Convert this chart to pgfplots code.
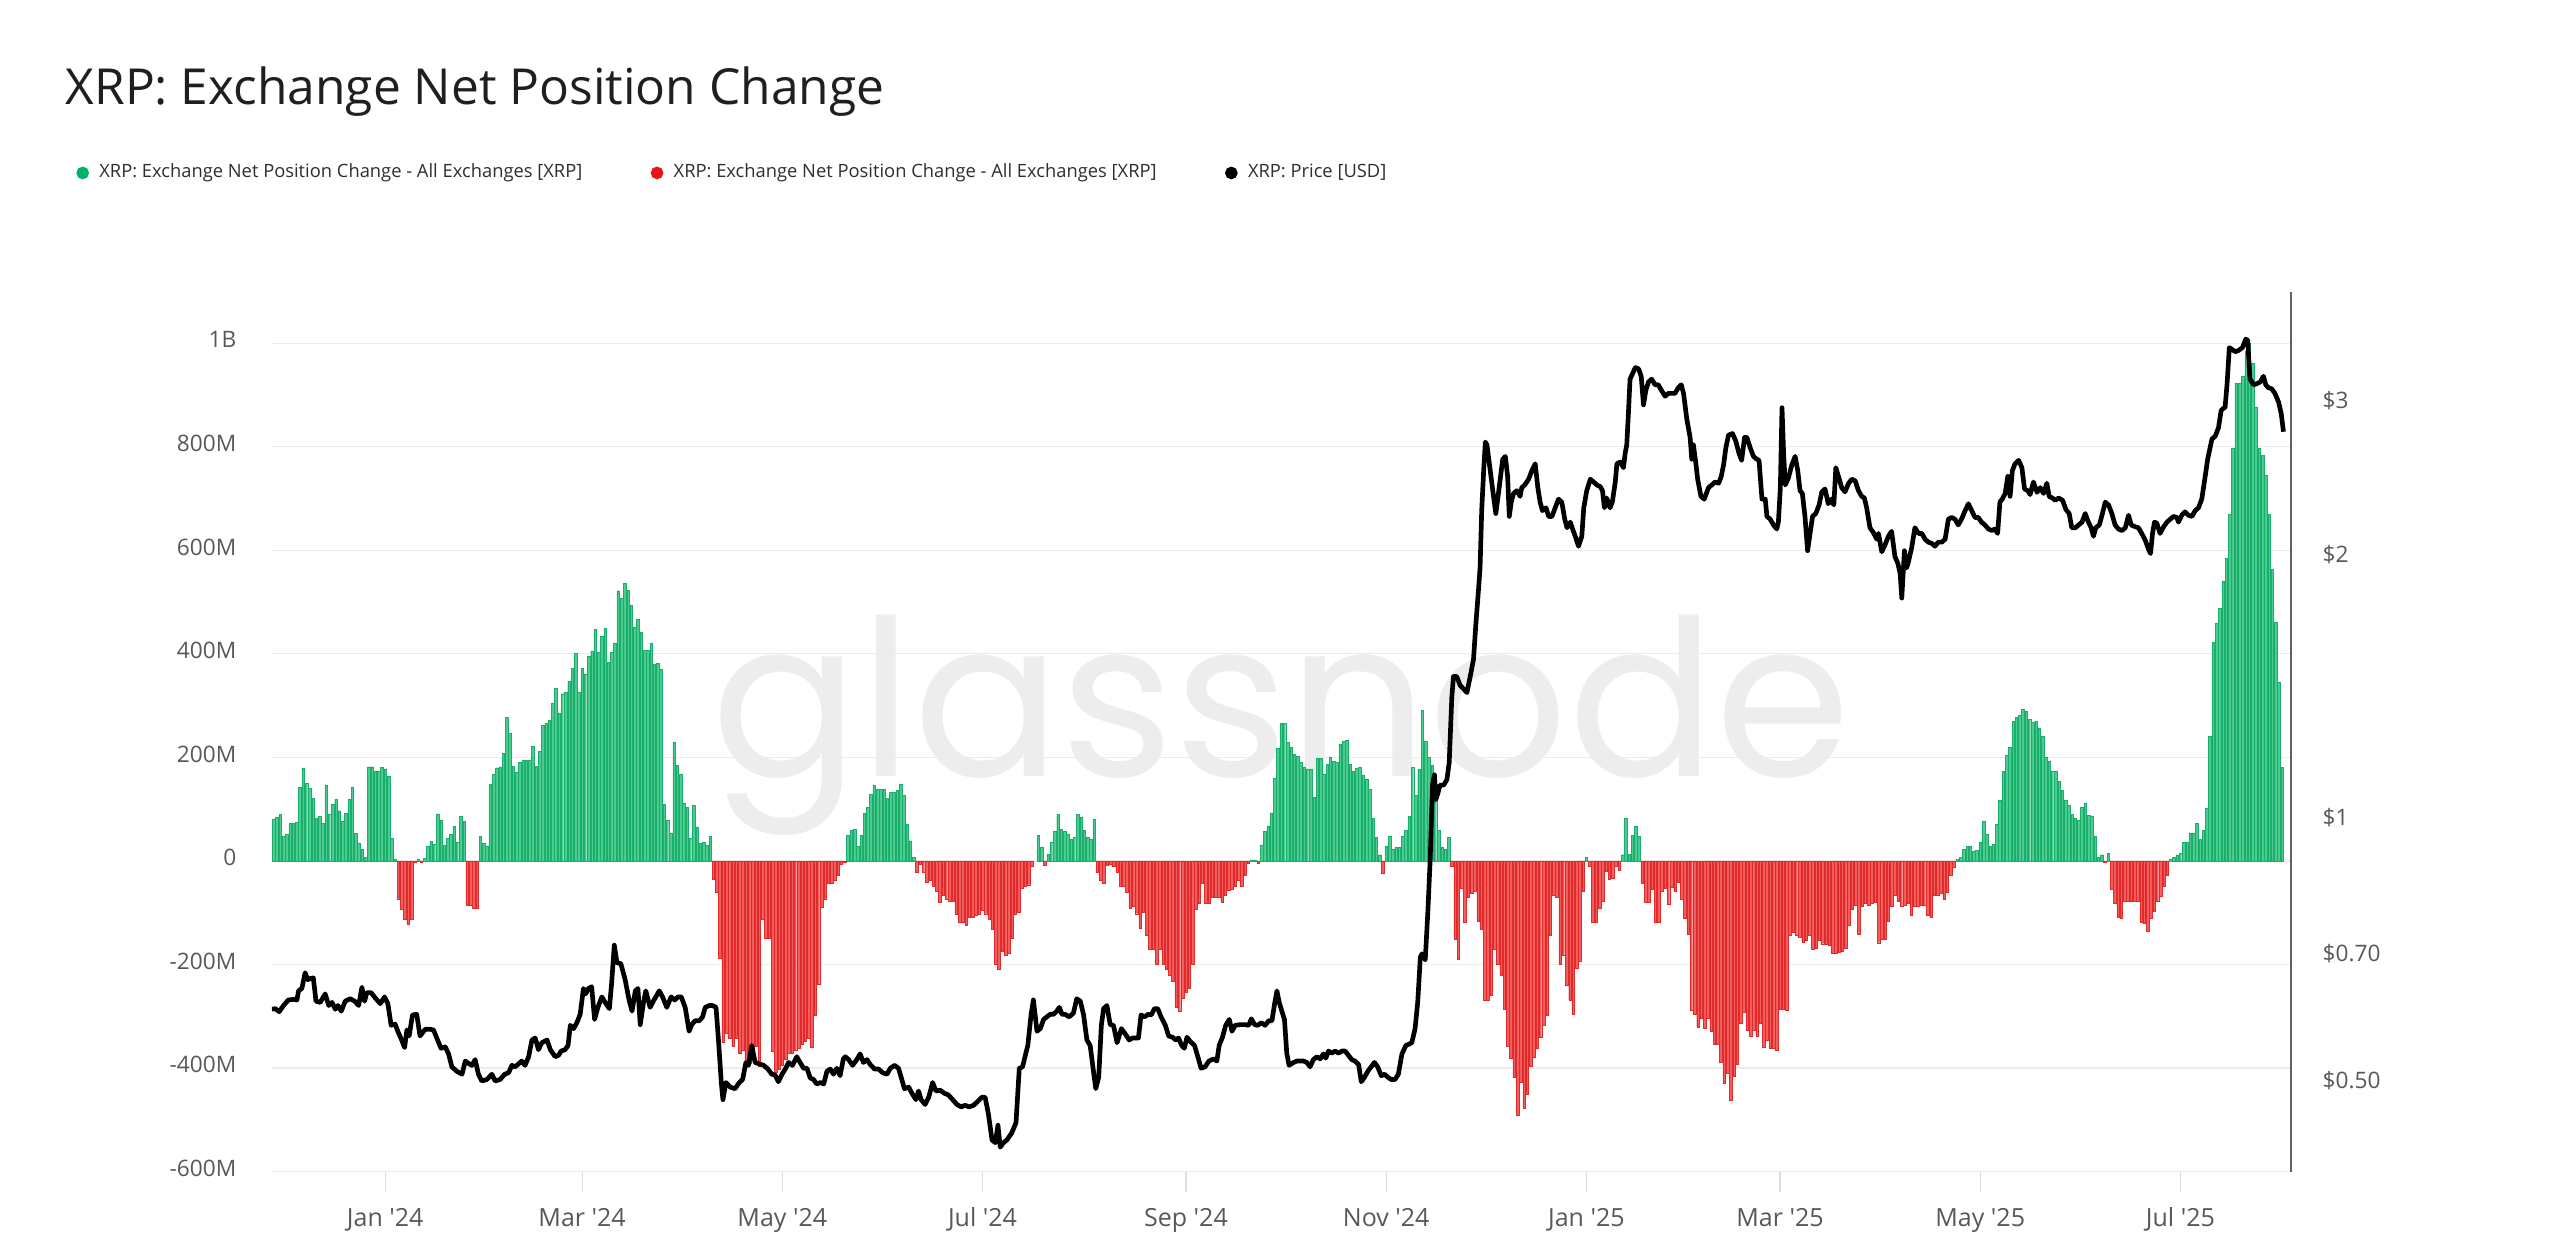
\documentclass[border=0pt]{standalone}
\usepackage{fontspec}
\setmainfont{Open Sans}[Ligatures=TeXOff]
\newfontfamily\wmfont{Poppins}
\usepackage{pgfplots}
\usepackage{pgfplotstable}
\pgfplotsset{compat=1.18}

\definecolor{barG}{RGB}{76,203,144}
\definecolor{barGd}{RGB}{26,174,108}
\definecolor{barR}{RGB}{241,94,94}
\definecolor{barRd}{RGB}{226,42,42}
\definecolor{legG}{RGB}{0,178,107}
\definecolor{legR}{RGB}{232,20,25}
\definecolor{gridc}{RGB}{236,236,236}
\definecolor{tickc}{RGB}{88,88,88}

% Exchange net position change, millions of XRP, day 0 = 1 Jan 2024
\pgfplotstableread[row sep=\\]{
d v \\
-34 81 \\ -33 84 \\ -32 90 \\ -31 48 \\ -30 51 \\ -29 72 \\ -28 72 \\ -27 74 \\ -26 142 \\ -25 179 \\
-24 150 \\ -23 141 \\ -22 121 \\ -21 83 \\ -20 87 \\ -19 72 \\ -18 147 \\ -17 90 \\ -16 110 \\ -15 119 \\
-14 97 \\ -13 76 \\ -12 92 \\ -11 120 \\ -10 143 \\ -9 53 \\ -8 34 \\ -7 22 \\ -6 8 \\ -5 182 \\
-4 182 \\ -3 173 \\ -2 173 \\ -1 181 \\ 0 177 \\ 1 164 \\ 2 44 \\ 3 3 \\ 4 -73 \\ 5 -93 \\
6 -113 \\ 7 -122 \\ 8 -112 \\ 9 -2 \\ 10 3 \\ 11 -3 \\ 12 5 \\ 13 29 \\ 14 38 \\ 15 32 \\
16 91 \\ 17 79 \\ 18 31 \\ 19 43 \\ 20 51 \\ 21 67 \\ 22 36 \\ 23 86 \\ 24 77 \\ 25 -86 \\
26 -86 \\ 27 -92 \\ 28 -92 \\ 29 47 \\ 30 34 \\ 31 29 \\ 32 149 \\ 33 167 \\ 34 180 \\ 35 182 \\
36 208 \\ 37 278 \\ 38 246 \\ 39 183 \\ 40 171 \\ 41 190 \\ 42 194 \\ 43 194 \\ 44 194 \\ 45 221 \\
46 183 \\ 47 212 \\ 48 262 \\ 49 266 \\ 50 271 \\ 51 304 \\ 52 334 \\ 53 286 \\ 54 323 \\ 55 326 \\
56 348 \\ 57 373 \\ 58 401 \\ 59 326 \\ 60 372 \\ 61 361 \\ 62 396 \\ 63 406 \\ 64 447 \\ 65 403 \\
66 434 \\ 67 449 \\ 68 383 \\ 69 403 \\ 70 421 \\ 71 522 \\ 72 507 \\ 73 537 \\ 74 523 \\ 75 494 \\
76 452 \\ 77 466 \\ 78 441 \\ 79 407 \\ 80 407 \\ 81 421 \\ 82 380 \\ 83 381 \\ 84 370 \\ 85 109 \\
86 79 \\ 87 54 \\ 88 230 \\ 89 184 \\ 90 168 \\ 91 112 \\ 92 104 \\ 93 43 \\ 94 107 \\ 95 66 \\
96 34 \\ 97 37 \\ 98 30 \\ 99 47 \\ 100 -36 \\ 101 -60 \\ 102 -188 \\ 103 -351 \\ 104 -333 \\ 105 -343 \\
106 -358 \\ 107 -343 \\ 108 -372 \\ 109 -365 \\ 110 -394 \\ 111 -390 \\ 112 -365 \\ 113 -358 \\ 114 -397 \\ 115 -113 \\
116 -149 \\ 117 -149 \\ 118 -367 \\ 119 -408 \\ 120 -403 \\ 121 -394 \\ 122 -383 \\ 123 -372 \\ 124 -372 \\ 125 -365 \\
126 -361 \\ 127 -354 \\ 128 -348 \\ 129 -343 \\ 130 -360 \\ 131 -299 \\ 132 -239 \\ 133 -90 \\ 134 -73 \\ 135 -44 \\
136 -43 \\ 137 -37 \\ 138 -28 \\ 139 -6 \\ 140 -2 \\ 141 50 \\ 142 60 \\ 143 61 \\ 144 28 \\ 145 50 \\
146 92 \\ 147 103 \\ 148 128 \\ 149 147 \\ 150 139 \\ 151 138 \\ 152 138 \\ 153 121 \\ 154 133 \\ 155 133 \\
156 137 \\ 157 149 \\ 158 126 \\ 159 70 \\ 160 39 \\ 161 8 \\ 162 -21 \\ 163 -7 \\ 164 -21 \\ 165 -41 \\
166 -38 \\ 167 -49 \\ 168 -58 \\ 169 -80 \\ 170 -66 \\ 171 -74 \\ 172 -77 \\ 173 -78 \\ 174 -103 \\ 175 -118 \\
176 -118 \\ 177 -124 \\ 178 -108 \\ 179 -108 \\ 180 -104 \\ 181 -102 \\ 182 -96 \\ 183 -102 \\ 184 -112 \\ 185 -132 \\
186 -199 \\ 187 -210 \\ 188 -174 \\ 189 -183 \\ 190 -178 \\ 191 -150 \\ 192 -103 \\ 193 -100 \\ 194 -52 \\ 195 -49 \\
196 -46 \\ 197 -10 \\ 198 0 \\ 199 50 \\ 200 27 \\ 201 -8 \\ 202 13 \\ 203 37 \\ 204 57 \\ 205 90 \\
206 61 \\ 207 57 \\ 208 51 \\ 209 41 \\ 210 46 \\ 211 90 \\ 212 84 \\ 213 59 \\ 214 46 \\ 215 42 \\
216 81 \\ 217 -22 \\ 218 -37 \\ 219 -43 \\ 220 -8 \\ 221 -6 \\ 222 -10 \\ 223 -21 \\ 224 -48 \\ 225 -48 \\
226 -60 \\ 227 -91 \\ 228 -88 \\ 229 -102 \\ 230 -130 \\ 231 -99 \\ 232 -143 \\ 233 -171 \\ 234 -171 \\ 235 -199 \\
236 -171 \\ 237 -199 \\ 238 -210 \\ 239 -221 \\ 240 -232 \\ 241 -282 \\ 242 -290 \\ 243 -266 \\ 244 -254 \\ 245 -246 \\
246 -199 \\ 247 -93 \\ 248 -82 \\ 249 -43 \\ 250 -82 \\ 251 -82 \\ 252 -71 \\ 253 -71 \\ 254 -71 \\ 255 -80 \\
256 -66 \\ 257 -57 \\ 258 -54 \\ 259 -49 \\ 260 -38 \\ 261 -49 \\ 262 -27 \\ 263 -4 \\ 264 2 \\ 265 1 \\
266 -5 \\ 267 31 \\ 268 57 \\ 269 68 \\ 270 93 \\ 271 159 \\ 272 218 \\ 273 266 \\ 274 266 \\ 275 229 \\
276 220 \\ 277 206 \\ 278 203 \\ 279 190 \\ 280 181 \\ 281 178 \\ 282 178 \\ 283 123 \\ 284 198 \\ 285 198 \\
286 167 \\ 287 187 \\ 288 201 \\ 289 193 \\ 290 190 \\ 291 226 \\ 292 231 \\ 293 233 \\ 294 187 \\ 295 173 \\
296 179 \\ 297 181 \\ 298 166 \\ 299 157 \\ 300 138 \\ 301 82 \\ 302 46 \\ 303 12 \\ 304 -23 \\ 305 29 \\
306 47 \\ 307 23 \\ 308 26 \\ 309 27 \\ 310 48 \\ 311 59 \\ 312 87 \\ 313 181 \\ 314 127 \\ 315 177 \\
316 291 \\ 317 231 \\ 318 200 \\ 319 184 \\ 320 146 \\ 321 59 \\ 322 27 \\ 323 23 \\ 324 46 \\ 325 -10 \\
326 -151 \\ 327 -190 \\ 328 -52 \\ 329 -119 \\ 330 -71 \\ 331 -63 \\ 332 -58 \\ 333 -116 \\ 334 -132 \\ 335 -269 \\
336 -269 \\ 337 -260 \\ 338 -171 \\ 339 -199 \\ 340 -221 \\ 341 -286 \\ 342 -358 \\ 343 -382 \\ 344 -418 \\ 345 -492 \\
346 -427 \\ 347 -477 \\ 348 -451 \\ 349 -397 \\ 350 -379 \\ 351 -362 \\ 352 -341 \\ 353 -318 \\ 354 -299 \\ 355 -143 \\
356 -66 \\ 357 -71 \\ 358 -199 \\ 359 -182 \\ 360 -241 \\ 361 -269 \\ 362 -297 \\ 363 -208 \\ 364 -193 \\ 365 -58 \\
366 8 \\ 367 -10 \\ 368 -118 \\ 369 -118 \\ 370 -91 \\ 371 -77 \\ 372 -19 \\ 373 -36 \\ 374 -34 \\ 375 -10 \\
376 -18 \\ 377 12 \\ 378 82 \\ 379 13 \\ 380 50 \\ 381 67 \\ 382 47 \\ 383 -43 \\ 384 -80 \\ 385 -80 \\
386 -54 \\ 387 -119 \\ 388 -119 \\ 389 -58 \\ 390 -52 \\ 391 -84 \\ 392 -51 \\ 393 -58 \\ 394 -41 \\ 395 -74 \\
396 -110 \\ 397 -141 \\ 398 -288 \\ 399 -297 \\ 400 -321 \\ 401 -304 \\ 402 -324 \\ 403 -304 \\ 404 -329 \\ 405 -354 \\
406 -354 \\ 407 -388 \\ 408 -430 \\ 409 -410 \\ 410 -463 \\ 411 -416 \\ 412 -393 \\ 413 -313 \\ 414 -293 \\ 415 -327 \\
416 -338 \\ 417 -327 \\ 418 -338 \\ 419 -313 \\ 420 -360 \\ 421 -346 \\ 422 -362 \\ 423 -362 \\ 424 -366 \\ 425 -286 \\
426 -286 \\ 427 -288 \\ 428 -143 \\ 429 -138 \\ 430 -143 \\ 431 -147 \\ 432 -157 \\ 433 -154 \\ 434 -143 \\ 435 -171 \\
436 -169 \\ 437 -154 \\ 438 -160 \\ 439 -160 \\ 440 -162 \\ 441 -179 \\ 442 -179 \\ 443 -177 \\ 444 -174 \\ 445 -169 \\
446 -124 \\ 447 -93 \\ 448 -86 \\ 449 -141 \\ 450 -88 \\ 451 -82 \\ 452 -86 \\ 453 -82 \\ 454 -80 \\ 455 -158 \\
456 -152 \\ 457 -152 \\ 458 -116 \\ 459 -88 \\ 460 -66 \\ 461 -77 \\ 462 -88 \\ 463 -86 \\ 464 -82 \\ 465 -104 \\
466 -88 \\ 467 -88 \\ 468 -86 \\ 469 -86 \\ 470 -104 \\ 471 -108 \\ 472 -66 \\ 473 -66 \\ 474 -63 \\ 475 -74 \\
476 -60 \\ 477 -27 \\ 478 -12 \\ 479 3 \\ 480 7 \\ 481 22 \\ 482 28 \\ 483 28 \\ 484 18 \\ 485 20 \\
486 37 \\ 487 77 \\ 488 51 \\ 489 29 \\ 490 32 \\ 491 70 \\ 492 118 \\ 493 173 \\ 494 204 \\ 495 220 \\
496 270 \\ 497 277 \\ 498 282 \\ 499 293 \\ 500 290 \\ 501 273 \\ 502 268 \\ 503 270 \\ 504 257 \\ 505 240 \\
506 201 \\ 507 193 \\ 508 173 \\ 509 173 \\ 510 154 \\ 511 137 \\ 512 118 \\ 513 107 \\ 514 90 \\ 515 82 \\
516 79 \\ 517 103 \\ 518 112 \\ 519 88 \\ 520 87 \\ 521 48 \\ 522 7 \\ 523 12 \\ 524 -2 \\ 525 14 \\
526 -54 \\ 527 -82 \\ 528 -108 \\ 529 -110 \\ 530 -77 \\ 531 -77 \\ 532 -77 \\ 533 -77 \\ 534 -77 \\ 535 -119 \\
536 -121 \\ 537 -136 \\ 538 -110 \\ 539 -97 \\ 540 -77 \\ 541 -69 \\ 542 -49 \\ 543 -27 \\ 544 3 \\ 545 7 \\
546 12 \\ 547 14 \\ 548 37 \\ 549 37 \\ 550 54 \\ 551 54 \\ 552 73 \\ 553 42 \\ 554 60 \\ 555 101 \\
556 240 \\ 557 423 \\ 558 459 \\ 559 488 \\ 560 540 \\ 561 584 \\ 562 670 \\ 563 798 \\ 564 923 \\ 565 923 \\
566 937 \\ 567 984 \\ 568 1001 \\ 569 962 \\ 570 877 \\ 571 798 \\ 572 784 \\ 573 746 \\ 574 670 \\ 575 564 \\
576 462 \\ 577 346 \\ 578 181 \\
}\netpos

% XRP price, USD
\pgfplotstableread[row sep=\\]{
d p \\
-34.5 0.604 \\ -33.5 0.605 \\ -32.3 0.600 \\ -31.0 0.610 \\ -29.5 0.619 \\ -28.0 0.620 \\ -26.9 0.619 \\ -26.4 0.634 \\
-25.4 0.638 \\ -24.4 0.665 \\ -23.6 0.653 \\ -22.9 0.655 \\ -21.9 0.656 \\ -21.1 0.617 \\ -19.8 0.615 \\ -18.3 0.629 \\
-17.2 0.610 \\ -16.2 0.615 \\ -15.2 0.604 \\ -14.4 0.610 \\ -13.4 0.601 \\ -12.2 0.617 \\ -10.7 0.621 \\ -9.3 0.617 \\
-8.1 0.610 \\ -7.1 0.640 \\ -6.3 0.617 \\ -5.6 0.631 \\ -4.3 0.631 \\ -3.0 0.622 \\ -1.5 0.613 \\ -0.2 0.624 \\
0.8 0.613 \\ 1.8 0.579 \\ 3.0 0.581 \\ 4.0 0.568 \\ 5.1 0.556 \\ 5.9 0.546 \\ 6.6 0.572 \\ 7.3 0.563 \\
8.3 0.595 \\ 9.6 0.596 \\ 10.6 0.563 \\ 12.2 0.573 \\ 13.7 0.573 \\ 14.7 0.572 \\ 15.7 0.560 \\ 17.0 0.545 \\
18.3 0.547 \\ 19.3 0.537 \\ 20.3 0.519 \\ 21.8 0.513 \\ 23.4 0.509 \\ 24.4 0.527 \\ 25.6 0.523 \\ 26.4 0.521 \\
27.4 0.529 \\ 28.4 0.509 \\ 29.4 0.500 \\ 31.0 0.502 \\ 32.5 0.509 \\ 33.5 0.500 \\ 35.0 0.502 \\ 36.4 0.509 \\
37.6 0.511 \\ 38.6 0.521 \\ 39.6 0.519 \\ 40.6 0.523 \\ 41.6 0.527 \\ 42.6 0.521 \\ 43.7 0.533 \\ 44.7 0.557 \\
45.7 0.560 \\ 46.7 0.543 \\ 47.7 0.553 \\ 49.3 0.557 \\ 50.3 0.543 \\ 51.8 0.533 \\ 52.8 0.535 \\ 53.6 0.541 \\
54.8 0.543 \\ 55.7 0.549 \\ 56.4 0.579 \\ 57.4 0.574 \\ 58.4 0.583 \\ 59.4 0.596 \\ 60.4 0.638 \\ 61.1 0.629 \\
61.9 0.638 \\ 62.9 0.641 \\ 63.8 0.588 \\ 64.8 0.607 \\ 66.0 0.624 \\ 67.0 0.615 \\ 68.3 0.605 \\ 69.0 0.648 \\
69.8 0.715 \\ 70.6 0.683 \\ 71.8 0.681 \\ 73.1 0.653 \\ 74.3 0.619 \\ 75.2 0.601 \\ 76.2 0.634 \\ 77.0 0.638 \\
77.7 0.580 \\ 78.7 0.615 \\ 79.4 0.634 \\ 80.7 0.607 \\ 81.9 0.619 \\ 83.5 0.634 \\ 84.5 0.624 \\ 85.8 0.607 \\
87.1 0.624 \\ 88.2 0.619 \\ 89.2 0.624 \\ 90.2 0.624 \\ 91.4 0.607 \\ 92.6 0.570 \\ 93.4 0.580 \\ 94.4 0.586 \\
95.7 0.586 \\ 96.7 0.592 \\ 97.5 0.607 \\ 98.7 0.610 \\ 99.7 0.610 \\ 100.8 0.607 \\ 101.6 0.553 \\ 102.4 0.498 \\
102.9 0.476 \\ 103.8 0.498 \\ 105.1 0.492 \\ 106.6 0.490 \\ 107.9 0.498 \\ 108.9 0.502 \\ 109.9 0.525 \\ 110.7 0.521 \\
111.7 0.549 \\ 112.7 0.525 \\ 114.0 0.523 \\ 115.3 0.521 \\ 116.6 0.516 \\ 117.8 0.509 \\ 118.8 0.508 \\ 119.8 0.499 \\
120.9 0.509 \\ 121.9 0.516 \\ 122.9 0.525 \\ 124.1 0.521 \\ 125.4 0.533 \\ 126.4 0.525 \\ 127.5 0.517 \\ 128.5 0.517 \\
129.5 0.504 \\ 130.5 0.502 \\ 131.5 0.496 \\ 132.6 0.498 \\ 133.6 0.496 \\ 134.6 0.513 \\ 135.6 0.516 \\ 136.6 0.509 \\
137.6 0.517 \\ 138.6 0.507 \\ 139.6 0.530 \\ 140.2 0.533 \\ 141.2 0.529 \\ 142.4 0.521 \\ 143.7 0.529 \\ 144.7 0.537 \\
145.7 0.525 \\ 146.8 0.529 \\ 147.8 0.522 \\ 149.1 0.516 \\ 150.3 0.516 \\ 151.6 0.511 \\ 152.9 0.509 \\ 153.9 0.517 \\
155.2 0.521 \\ 156.4 0.517 \\ 157.4 0.502 \\ 158.2 0.490 \\ 159.5 0.492 \\ 160.5 0.484 \\ 161.7 0.476 \\ 162.5 0.487 \\
163.3 0.476 \\ 164.5 0.470 \\ 165.6 0.479 \\ 166.8 0.498 \\ 167.8 0.487 \\ 169.1 0.488 \\ 170.4 0.484 \\ 171.6 0.482 \\
172.9 0.476 \\ 174.2 0.470 \\ 175.5 0.467 \\ 176.7 0.469 \\ 177.9 0.467 \\ 179.3 0.469 \\ 180.6 0.474 \\ 181.8 0.479 \\
182.8 0.479 \\ 183.8 0.458 \\ 184.9 0.428 \\ 185.9 0.425 \\ 186.7 0.445 \\ 187.4 0.420 \\ 188.4 0.425 \\ 189.4 0.428 \\
190.9 0.436 \\ 192.2 0.448 \\ 193.2 0.517 \\ 194.2 0.519 \\ 195.2 0.538 \\ 195.8 0.549 \\ 196.8 0.596 \\ 197.5 0.619 \\
198.6 0.570 \\ 199.6 0.574 \\ 200.6 0.588 \\ 201.6 0.592 \\ 202.6 0.596 \\ 203.6 0.596 \\ 204.6 0.601 \\ 205.4 0.607 \\
206.2 0.596 \\ 207.2 0.596 \\ 208.4 0.592 \\ 209.7 0.598 \\ 210.7 0.621 \\ 211.8 0.617 \\ 212.8 0.595 \\ 213.8 0.557 \\
214.8 0.549 \\ 215.8 0.513 \\ 216.5 0.490 \\ 217.4 0.505 \\ 218.2 0.579 \\ 218.9 0.605 \\ 219.9 0.610 \\ 220.9 0.580 \\
221.9 0.579 \\ 223.0 0.553 \\ 224.3 0.574 \\ 225.5 0.566 \\ 226.7 0.557 \\ 227.7 0.560 \\ 228.5 0.560 \\ 229.5 0.560 \\
230.3 0.595 \\ 231.4 0.592 \\ 232.4 0.596 \\ 233.4 0.595 \\ 234.4 0.605 \\ 235.4 0.605 \\ 236.4 0.592 \\ 237.7 0.579 \\
238.7 0.563 \\ 239.9 0.561 \\ 240.9 0.557 \\ 241.7 0.560 \\ 242.7 0.549 \\ 243.5 0.545 \\ 244.3 0.561 \\ 245.3 0.555 \\
246.6 0.549 \\ 247.6 0.533 \\ 248.6 0.517 \\ 249.8 0.519 \\ 251.0 0.527 \\ 252.4 0.530 \\ 253.4 0.527 \\ 254.1 0.549 \\
255.1 0.561 \\ 256.1 0.579 \\ 257.2 0.588 \\ 258.0 0.570 \\ 259.0 0.579 \\ 260.5 0.580 \\ 262.0 0.580 \\ 263.1 0.579 \\
263.9 0.589 \\ 264.9 0.580 \\ 265.9 0.579 \\ 266.9 0.583 \\ 268.1 0.579 \\ 269.2 0.586 \\ 270.2 0.586 \\ 271.0 0.613 \\
271.7 0.634 \\ 272.4 0.615 \\ 273.2 0.601 \\ 274.0 0.588 \\ 274.7 0.538 \\ 275.4 0.521 \\ 276.8 0.525 \\ 277.8 0.527 \\
278.8 0.527 \\ 279.8 0.527 \\ 280.8 0.525 \\ 281.8 0.519 \\ 282.8 0.529 \\ 283.9 0.533 \\ 284.9 0.530 \\ 285.9 0.537 \\
286.6 0.531 \\ 287.4 0.541 \\ 288.4 0.538 \\ 289.4 0.541 \\ 290.5 0.538 \\ 291.5 0.541 \\ 292.5 0.541 \\ 293.5 0.535 \\
294.5 0.529 \\ 295.5 0.527 \\ 296.6 0.522 \\ 297.4 0.499 \\ 298.4 0.505 \\ 299.4 0.513 \\ 300.4 0.519 \\ 301.4 0.525 \\
302.4 0.519 \\ 303.5 0.507 \\ 304.5 0.509 \\ 305.5 0.505 \\ 306.5 0.502 \\ 307.7 0.502 \\ 308.7 0.509 \\ 309.8 0.537 \\
311.0 0.549 \\ 312.8 0.553 \\ 313.8 0.574 \\ 314.6 0.615 \\ 315.4 0.693 \\ 315.9 0.699 \\ 316.9 0.688 \\ 317.7 0.782 \\
318.4 0.896 \\ 319.1 1.090 \\ 319.7 1.120 \\ 320.1 1.049 \\ 320.7 1.065 \\ 321.4 1.090 \\ 322.5 1.090 \\ 323.5 1.106 \\
324.2 1.157 \\ 325.0 1.376 \\ 325.5 1.451 \\ 326.5 1.451 \\ 327.5 1.418 \\ 328.6 1.404 \\ 329.6 1.391 \\ 330.6 1.451 \\
331.6 1.518 \\ 332.3 1.662 \\ 333.1 1.819 \\ 333.6 1.932 \\ 334.1 2.246 \\ 334.7 2.496 \\ 335.2 2.691 \\ 335.7 2.671 \\
336.7 2.496 \\ 337.7 2.332 \\ 338.4 2.229 \\ 339.2 2.350 \\ 340.5 2.572 \\ 341.3 2.591 \\ 342.0 2.458 \\ 342.5 2.212 \\
343.1 2.297 \\ 343.8 2.350 \\ 344.8 2.367 \\ 345.8 2.332 \\ 346.3 2.386 \\ 347.2 2.403 \\ 348.4 2.440 \\ 349.4 2.496 \\
350.4 2.541 \\ 351.2 2.386 \\ 351.9 2.297 \\ 352.6 2.246 \\ 353.7 2.263 \\ 354.5 2.212 \\ 355.5 2.212 \\ 356.5 2.263 \\
357.5 2.315 \\ 358.5 2.297 \\ 359.4 2.196 \\ 360.1 2.147 \\ 361.1 2.179 \\ 361.8 2.140 \\ 362.6 2.099 \\ 363.6 2.045 \\
364.6 2.099 \\ 365.2 2.263 \\ 366.1 2.367 \\ 367.2 2.440 \\ 368.2 2.422 \\ 369.2 2.403 \\ 370.2 2.393 \\ 370.9 2.367 \\
371.5 2.263 \\ 372.2 2.322 \\ 373.2 2.263 \\ 373.9 2.297 \\ 374.8 2.422 \\ 375.3 2.541 \\ 376.3 2.553 \\ 377.3 2.515 \\
377.8 2.611 \\ 378.3 2.671 \\ 378.8 2.902 \\ 379.3 3.176 \\ 380.1 3.224 \\ 380.9 3.274 \\ 381.9 3.263 \\ 382.7 3.200 \\
383.4 2.968 \\ 384.1 3.082 \\ 384.9 3.152 \\ 385.9 3.176 \\ 386.9 3.129 \\ 387.9 3.129 \\ 388.9 3.082 \\ 390.0 3.036 \\
391.0 3.059 \\ 392.0 3.059 \\ 393.0 3.059 \\ 394.0 3.105 \\ 394.9 3.129 \\ 395.6 3.059 \\ 396.6 2.858 \\ 397.6 2.724 \\
398.1 2.572 \\ 398.6 2.671 \\ 399.3 2.553 \\ 399.9 2.440 \\ 400.9 2.332 \\ 401.9 2.315 \\ 403.2 2.386 \\ 404.2 2.403 \\
405.2 2.422 \\ 406.3 2.414 \\ 407.1 2.458 \\ 407.8 2.534 \\ 408.5 2.651 \\ 409.3 2.740 \\ 410.5 2.752 \\ 411.5 2.699 \\
412.5 2.611 \\ 413.3 2.564 \\ 414.2 2.724 \\ 414.9 2.724 \\ 415.9 2.651 \\ 416.9 2.591 \\ 417.9 2.572 \\ 418.6 2.564 \\
419.5 2.315 \\ 420.5 2.315 \\ 421.0 2.212 \\ 422.0 2.196 \\ 423.0 2.163 \\ 424.0 2.140 \\ 424.5 2.179 \\ 425.1 2.386 \\
425.6 2.946 \\ 426.1 2.611 \\ 426.6 2.403 \\ 427.6 2.451 \\ 428.6 2.534 \\ 429.6 2.591 \\ 430.4 2.496 \\ 431.1 2.367 \\
431.8 2.350 \\ 432.6 2.212 \\ 433.4 2.021 \\ 434.2 2.121 \\ 434.9 2.212 \\ 435.9 2.229 \\ 436.9 2.280 \\ 437.7 2.357 \\
438.7 2.378 \\ 439.7 2.287 \\ 440.6 2.315 \\ 441.4 2.280 \\ 442.0 2.515 \\ 442.8 2.458 \\ 443.8 2.386 \\ 444.8 2.360 \\
445.9 2.414 \\ 446.9 2.440 \\ 447.9 2.429 \\ 448.9 2.367 \\ 449.9 2.332 \\ 450.7 2.322 \\ 451.4 2.263 \\ 452.4 2.147 \\
453.4 2.121 \\ 454.5 2.083 \\ 455.0 2.115 \\ 456.0 2.015 \\ 457.0 2.052 \\ 458.0 2.099 \\ 459.0 2.127 \\ 460.0 1.991 \\
460.9 1.955 \\ 461.6 1.903 \\ 462.1 1.784 \\ 462.9 2.021 \\ 463.6 1.932 \\ 464.1 1.961 \\ 465.1 2.036 \\ 466.1 2.147 \\
467.2 2.115 \\ 468.2 2.115 \\ 469.2 2.083 \\ 470.2 2.067 \\ 471.2 2.061 \\ 472.2 2.045 \\ 473.2 2.067 \\ 474.3 2.067 \\
475.3 2.083 \\ 476.3 2.196 \\ 477.3 2.206 \\ 478.3 2.196 \\ 479.3 2.163 \\ 480.3 2.196 \\ 481.4 2.246 \\ 482.4 2.287 \\
483.4 2.246 \\ 484.4 2.206 \\ 485.4 2.206 \\ 486.4 2.179 \\ 487.4 2.163 \\ 488.5 2.140 \\ 489.5 2.131 \\ 490.5 2.140 \\
491.3 2.115 \\ 492.0 2.297 \\ 492.7 2.315 \\ 493.6 2.350 \\ 494.4 2.458 \\ 495.1 2.332 \\ 495.8 2.496 \\ 496.6 2.541 \\
497.7 2.564 \\ 498.7 2.515 \\ 499.5 2.378 \\ 500.5 2.367 \\ 501.2 2.343 \\ 502.2 2.422 \\ 503.3 2.357 \\ 504.3 2.386 \\
505.3 2.350 \\ 506.3 2.414 \\ 507.0 2.332 \\ 508.0 2.322 \\ 508.8 2.308 \\ 509.9 2.322 \\ 511.1 2.308 \\ 512.1 2.253 \\
513.1 2.229 \\ 513.9 2.147 \\ 515.0 2.147 \\ 516.0 2.163 \\ 517.0 2.179 \\ 518.0 2.229 \\ 518.8 2.186 \\ 519.8 2.147 \\
520.5 2.099 \\ 521.2 2.147 \\ 522.3 2.163 \\ 523.1 2.219 \\ 524.1 2.297 \\ 525.1 2.280 \\ 526.1 2.229 \\ 527.1 2.163 \\
528.1 2.140 \\ 529.2 2.131 \\ 530.2 2.147 \\ 531.2 2.219 \\ 532.0 2.163 \\ 533.2 2.153 \\ 534.2 2.147 \\ 535.2 2.115 \\
536.3 2.077 \\ 537.3 2.027 \\ 537.9 2.006 \\ 538.5 2.115 \\ 539.1 2.179 \\ 539.8 2.173 \\ 540.8 2.115 \\ 541.9 2.153 \\
542.9 2.179 \\ 543.9 2.196 \\ 544.9 2.212 \\ 545.9 2.206 \\ 546.4 2.179 \\ 547.4 2.219 \\ 548.4 2.239 \\ 549.4 2.219 \\
550.5 2.212 \\ 551.5 2.246 \\ 552.5 2.263 \\ 553.5 2.315 \\ 554.3 2.422 \\ 555.3 2.572 \\ 556.6 2.712 \\ 557.6 2.732 \\
558.6 2.794 \\ 559.4 2.924 \\ 560.1 2.941 \\ 560.6 2.946 \\ 561.2 3.129 \\ 561.9 3.451 \\ 562.7 3.435 \\ 563.7 3.414 \\
564.7 3.425 \\ 565.9 3.451 \\ 566.9 3.529 \\ 567.5 3.519 \\ 568.2 3.176 \\ 569.3 3.129 \\ 570.3 3.138 \\ 571.3 3.152 \\
572.3 3.200 \\ 573.0 3.129 \\ 573.8 3.105 \\ 574.8 3.096 \\ 575.8 3.059 \\ 576.9 2.990 \\ 577.7 2.902 \\ 578.4 2.765 \\
}\price

\begin{document}
\begin{tikzpicture}[x=1pt,y=1pt]
\path (0,0) rectangle (768,375.6);
\node[anchor=base west, inner sep=0, text=black!88, font=\fontsize{14.9}{15}\selectfont] at (19.5,344.25) {XRP: Exchange Net Position Change};
\node[anchor=base, inner sep=0, text=black!7, font=\wmfont\fontsize{65.5}{66}\selectfont] at (384.45,142.8) {glassnode};

\begin{axis}[
  at={(81.6pt,24.15pt)}, anchor=south west,
  width=605.7pt, height=264pt, scale only axis,
  xmin=-34.5, xmax=580.7, ymin=-600, ymax=1100,
  axis line style={draw=none},
  ymajorgrids, major grid style={gridc, line width=0.35pt},
  ytick={-600,-400,-200,200,400,600,800,1000},
  yticklabels={-600M,-400M,-200M,200M,400M,600M,800M,1B},
  extra y ticks={0}, extra y tick labels={0},
  extra y tick style={grid style={black!40, line width=0.3pt}},
  ytick style={draw=none},
  yticklabel style={anchor=east, inner sep=0pt, xshift=-4.5pt, text=tickc, font=\fontsize{6.8}{7}\selectfont},
  xtick={0,60,121,182,244,305,366,425,486,547},
  xticklabels={Jan '24,Mar '24,May '24,Jul '24,Sep '24,Nov '24,Jan '25,Mar '25,May '25,Jul '25},
  xtick pos=bottom,
  tick align=outside, major tick length=6pt,
  xtick style={draw=black!13, line width=0.35pt},
  xticklabel style={anchor=center, inner sep=0pt, yshift=-8.8pt, text=tickc, font=\fontsize{7.5}{8}\selectfont},
  xticklabel shift=0pt,
  typeset ticklabels with strut,
]
\addplot[ybar, bar width=0.78, bar shift=0pt, fill=barG, draw=barGd, line width=0.12pt,
  y filter/.expression={y>0 ? y : nan}] table[x=d, y=v] {\netpos};
\addplot[ybar, bar width=0.78, bar shift=0pt, fill=barR, draw=barRd, line width=0.12pt,
  y filter/.expression={y<0 ? y : nan}] table[x=d, y=v] {\netpos};
\end{axis}

\begin{axis}[
  at={(81.6pt,24.15pt)}, anchor=south west,
  width=605.7pt, height=264pt, scale only axis,
  xmin=-34.5, xmax=580.7,
  ymode=log, ymin=0.394, ymax=4.0,
  axis x line=none, axis y line*=right,
  axis line style={-, draw=black!62, line width=0.4pt},
  ytick={0.5,0.7,1,2,3}, yticklabels={\$0.50,\$0.70,\$1,\$2,\$3},
  minor ytick={}, ytick style={draw=none},
  yticklabel style={anchor=west, inner sep=0pt, xshift=9.3pt, text=tickc, font=\fontsize{6.8}{7}\selectfont},
  legend columns=3, legend cell align=left,
  legend style={at={(axis description cs:-0.0969,1.1347)}, anchor=west,
    draw=none, fill=none, inner sep=0pt, outer sep=0pt,
    font=\fontsize{5.5}{6}\selectfont, text=black!82,
    nodes={inner sep=0.8pt},
    /tikz/every odd column/.append style={column sep=2.3pt},
    /tikz/every even column/.append style={column sep=19.1pt}},
]
\addlegendimage{legend image code/.code={\fill[legG] (0pt,0pt) circle (1.7pt);}}
\addlegendentry{\makebox[145.5pt][l]{XRP: Exchange Net Position Change - All Exchanges [XRP]}}
\addlegendimage{legend image code/.code={\fill[legR] (0pt,0pt) circle (1.7pt);}}
\addlegendentry{\makebox[145.5pt][l]{XRP: Exchange Net Position Change - All Exchanges [XRP]}}
\addlegendimage{legend image code/.code={\fill[black] (0pt,0pt) circle (1.7pt);}}
\addlegendentry{XRP: Price [USD]}
\addplot[black, line width=1.4pt, line join=round, forget plot] table[x=d, y=p] {\price};
\end{axis}
\end{tikzpicture}
\end{document}
